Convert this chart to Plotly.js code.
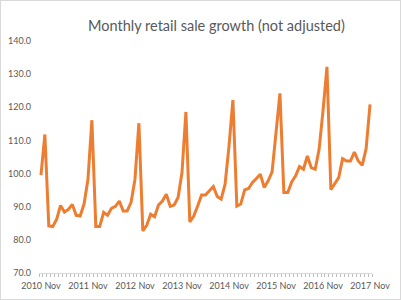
<!DOCTYPE html>
<html>
<head>
<meta charset="utf-8">
<script src="https://cdn.plot.ly/plotly-3.0.1.min.js"></script>
<style>
html,body{margin:0;padding:0;background:#fff;}
#wrap{width:401px;height:300px;box-sizing:border-box;border:1px solid #d9d9d9;overflow:hidden;}
#chart{width:399px;height:298px;}
</style>
</head>
<body>
<div id="wrap"><div id="chart"></div></div>
<script>
// Monthly index values, 2010 Nov .. 2017 Nov
const values = [
  99.5, 111.8, 84.2, 84.0, 86.2, 90.4, 88.4, 89.2, 90.7, 87.4, 87.2, 90.8,
  98.3, 116.1, 84.0, 84.0, 88.3, 87.4, 89.5, 90.1, 91.7, 88.7, 88.7, 91.3,
  98.3, 115.2, 82.7, 84.4, 87.7, 87.0, 90.5, 91.7, 93.8, 90.1, 90.5, 92.8,
  100.3, 118.6, 85.4, 87.2, 90.2, 93.5, 93.5, 94.8, 96.1, 93.1, 92.3, 96.8,
  108.3, 122.2, 90.2, 90.8, 95.1, 95.5, 97.3, 98.5, 99.8, 95.8, 97.8, 100.5,
  111.8, 124.2, 94.3, 94.3, 97.5, 99.3, 102.1, 101.3, 105.3, 101.8, 101.3, 107.3,
  119.0, 132.2, 95.1, 96.8, 98.8, 104.5, 103.8, 103.8, 106.5, 103.8, 102.5, 107.5,
  120.9
];
const tickLabels = ["2010 Nov","2011 Nov","2012 Nov","2013 Nov","2014 Nov","2015 Nov","2016 Nov","2017 Nov"];
const labelEvery = 12;

const xIdx = values.map((v, i) => i);
const tickPos = tickLabels.map((t, i) => i * labelEvery);

const trace = {
  x: xIdx,
  y: values,
  type: 'scatter',
  mode: 'lines',
  line: {color: '#ED7D31', width: 3, shape: 'linear'},
  hoverinfo: 'skip'
};

const FONT = 'Lato, "Open Sans", sans-serif';

const layout = {
  width: 399,
  height: 298,
  margin: {l: 38.3, r: 28.3, t: 40, b: 26},
  paper_bgcolor: '#ffffff',
  plot_bgcolor: '#ffffff',
  showlegend: false,
  title: {
    text: 'Monthly retail sale growth (not adjusted)',
    font: {family: FONT, size: 14.5, color: '#595959'},
    xref: 'container', x: 0.54, xanchor: 'center',
    yref: 'container', y: 0.915, yanchor: 'middle'
  },
  xaxis: {
    range: [-0.5, values.length - 0.5],
    tickmode: 'array',
    tickvals: tickPos,
    ticktext: tickLabels,
    ticks: '',
    showgrid: false,
    zeroline: false,
    showline: true,
    linecolor: '#d9d9d9',
    linewidth: 1,
    ticklabelstandoff: 4,
    tickfont: {family: FONT, size: 9, color: '#595959'},
    minor: {tickmode: 'linear', tick0: -0.5, dtick: 1, ticks: 'outside', ticklen: 3, tickcolor: '#bfbfbf', tickwidth: 1, showgrid: false}
  },
  yaxis: {
    range: [70, 140],
    tickmode: 'linear',
    tick0: 70,
    dtick: 10,
    tickformat: '.1f',
    ticks: '',
    showgrid: false,
    zeroline: false,
    showline: false,
    ticklabelstandoff: 7,
    tickfont: {family: FONT, size: 9, color: '#595959'}
  }
};

Plotly.newPlot('chart', [trace], layout, {displayModeBar: false, staticPlot: true});
</script>
</body>
</html>
